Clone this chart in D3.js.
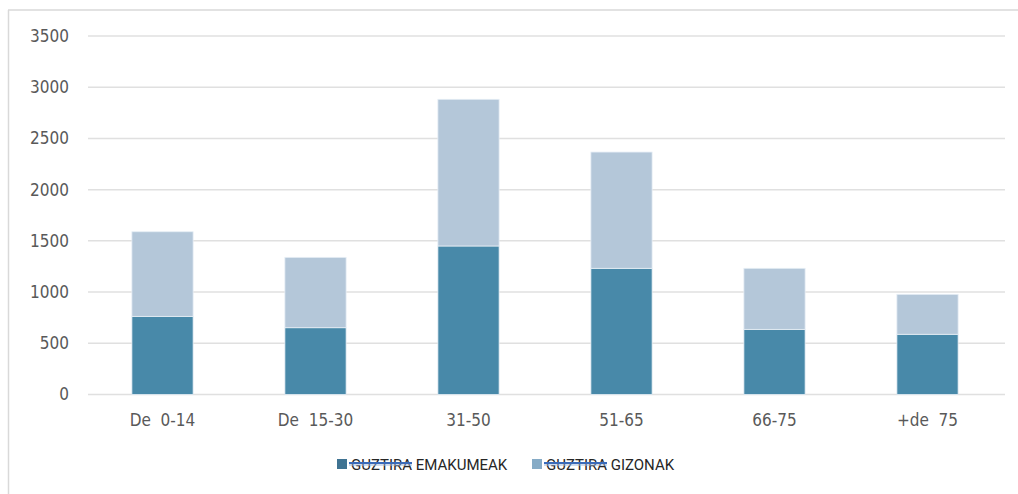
<!DOCTYPE html>
<html>
<head>
<meta charset="utf-8">
<script src="https://cdn.jsdelivr.net/npm/d3@7"></script>
<style>
  body { margin: 0; background: #fff; }
  svg { display: block; }
  .tick-label { font-family: "DejaVu Sans Condensed", "DejaVu Sans", sans-serif; font-size: 17px; fill: #595959; }
  .legend-label { font-family: Roboto, "Liberation Sans", sans-serif; font-size: 15px; fill: #262626; }
</style>
</head>
<body>
<svg id="chart" width="1018" height="494"></svg>
<script>
// data
const categories = ["De  0-14", "De  15-30", "31-50", "51-65", "66-75", "+de  75"];
const emakumeak = [763, 652, 1450, 1232, 636, 588];
const gizonak = [826, 687, 1432, 1135, 596, 390];
const yTicks = [0, 500, 1000, 1500, 2000, 2500, 3000, 3500];
const seriesNames = ["GUZTIRA EMAKUMEAK", "GUZTIRA GIZONAK"];
const barColors = ["#4889a9", "#b4c7d9"];
const legendColors = ["#3f7392", "#86abc6"];

const chartSettings = {
  width: 1018,
  height: 494,
  marginTop: 36,
  marginLeft: 86,
  marginRight: 14,
  marginBottom: 99.5,
};
const dms = {
  ...chartSettings,
  boundedWidth: chartSettings.width - chartSettings.marginLeft - chartSettings.marginRight,
  boundedHeight: chartSettings.height - chartSettings.marginTop - chartSettings.marginBottom,
};

const svg = d3.select("#chart");

// frame (top + left border)
svg.append("line").attr("x1", 8).attr("x2", 1018).attr("y1", 10).attr("y2", 10)
  .attr("stroke", "#d9d9d9").attr("stroke-width", 1.5);
svg.append("line").attr("x1", 8.5).attr("x2", 8.5).attr("y1", 10).attr("y2", 494)
  .attr("stroke", "#d9d9d9").attr("stroke-width", 1.5);

const bounds = svg.append("g")
  .attr("transform", `translate(${dms.marginLeft},${dms.marginTop})`);

// scales
const xScale = d3.scaleBand()
  .domain(categories)
  .range([0, dms.boundedWidth])
  .paddingInner(0.6)
  .paddingOuter(0.3);

const yScale = d3.scaleLinear()
  .domain([0, 3500])
  .range([dms.boundedHeight, 0]);

// gridlines
bounds.selectAll(".grid")
  .data(yTicks)
  .enter()
  .append("line")
  .attr("class", "grid")
  .attr("x1", 2)
  .attr("x2", dms.boundedWidth + 1)
  .attr("y1", (d) => yScale(d))
  .attr("y2", (d) => yScale(d))
  .attr("stroke", "#e0e0e0")
  .attr("stroke-width", 1.5);

// y labels
bounds.selectAll(".y-label")
  .data(yTicks)
  .enter()
  .append("text")
  .attr("class", "tick-label")
  .attr("x", -17)
  .attr("y", (d) => yScale(d))
  .attr("dy", "0.35em")
  .attr("text-anchor", "end")
  .text((d) => d);

// stacked bars
const rows = categories.map((c, i) => ({ cat: c, emakumeak: emakumeak[i], gizonak: gizonak[i] }));
const stacked = d3.stack().keys(["emakumeak", "gizonak"])(rows);

bounds.selectAll(".series")
  .data(stacked)
  .enter()
  .append("g")
  .attr("fill", (d, i) => barColors[i])
  .selectAll("rect")
  .data((d) => d)
  .enter()
  .append("rect")
  .attr("x", (d) => xScale(d.data.cat))
  .attr("width", xScale.bandwidth())
  .attr("y", (d) => yScale(d[1]))
  .attr("height", (d) => yScale(d[0]) - yScale(d[1]))
  .attr("stroke", "#e6eef5")
  .attr("stroke-width", 0.8);

// x labels
bounds.selectAll(".x-label")
  .data(categories)
  .enter()
  .append("text")
  .attr("class", "tick-label")
  .attr("x", (d) => xScale(d) + xScale.bandwidth() / 2)
  .attr("y", dms.boundedHeight + 26)
  .attr("dy", "0.35em")
  .attr("text-anchor", "middle")
  .style("white-space", "pre")
  .text((d) => d);

// legend
const legendX = [337, 532];
const legend = svg.selectAll(".legend")
  .data(seriesNames)
  .enter()
  .append("g")
  .attr("transform", (d, i) => `translate(${legendX[i]},459)`);

legend.append("rect")
  .attr("width", 10)
  .attr("height", 10)
  .attr("fill", (d, i) => legendColors[i]);

const legendText = legend.append("text")
  .attr("class", "legend-label")
  .attr("x", 14)
  .attr("y", 10.5);
legendText.text((d) => d);

// strike line over the first word
legend.each(function () {
  const g = d3.select(this);
  const t = g.select("text").node();
  const w = t.getSubStringLength(0, 7);
  g.append("line")
    .attr("x1", 12).attr("x2", 14 + w)
    .attr("y1", 4).attr("y2", 4)
    .attr("stroke", "#3a6bb8").attr("stroke-width", 2);
  g.append("line")
    .attr("x1", 12).attr("x2", 14 + w)
    .attr("y1", 6).attr("y2", 6)
    .attr("stroke", "#9db7dc").attr("stroke-width", 1);
});
</script>
</body>
</html>
